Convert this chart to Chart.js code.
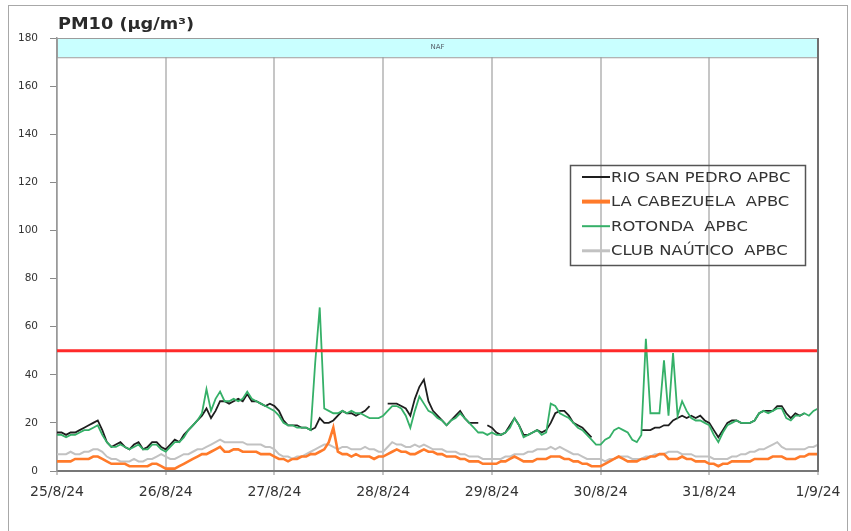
<!DOCTYPE html>
<html>
<head>
<meta charset="utf-8">
<script src="https://cdn.jsdelivr.net/npm/chart.js@4.4.1/dist/chart.umd.min.js"></script>
<style>
  html, body { margin: 0; padding: 0; background: #fff; }
</style>
</head>
<body>
<canvas id="pm10" width="851" height="531"></canvas>
<script>
/* PM10 hourly series, 25/8/24 00h -> 1/9/24 00h (one value per hour, null = no data) */

const DAY_LABELS = ['25/8/24', '26/8/24', '27/8/24', '28/8/24', '29/8/24', '30/8/24', '31/8/24', '1/9/24'];
const HOURS = Array.from({ length: 169 }, (_, i) => i);
const Y_TICKS = [0, 20, 40, 60, 80, 100, 120, 140, 160, 180];
const LIMIT = 50;              // daily limit value
const NAF_BAND = [172, 180];   // episode band at the top
const NAF_LABEL = 'NAF';
const TITLE = 'PM10 (µg/m³)';

const RIO_SAN_PEDRO = [
    16,16,15,16,16,17,18,19,20,21,17,12,10,11,12,10,9,11,12,9,10,12,12,10,
    9,11,13,12,15,17,19,21,23,26,22,25,29,29,28,29,30,29,32,29,29,28,27,28,
    27,25,21,19,19,19,18,18,17,18,22,20,20,21,23,25,24,24,23,24,25,27,null,null,
    null,28,28,28,27,26,23,30,35,38,29,25,23,21,19,21,23,25,22,20,20,20,null,19,
    18,16,15,16,19,22,19,15,15,16,17,16,17,20,24,25,25,23,20,19,18,16,14,null,
    null,null,null,null,null,null,null,null,null,17,17,17,18,18,19,19,21,22,23,22,23,22,23,21,
    20,17,14,17,20,21,21,20,20,20,21,24,25,25,25,27,27,24,22,24,23,24,null,null,null
];
const LA_CABEZUELA = [
    4,4,4,4,5,5,5,5,6,6,5,4,3,3,3,3,2,2,2,2,2,3,3,2,
    1,1,1,2,3,4,5,6,7,7,8,9,10,8,8,9,9,8,8,8,8,7,7,7,
    6,5,5,4,5,5,6,6,7,7,8,9,12,18,8,7,7,6,7,6,6,6,5,6,
    6,7,8,9,8,8,7,7,8,9,8,8,7,7,6,6,6,5,5,4,4,4,3,3,
    3,3,4,4,5,6,5,4,4,4,5,5,5,6,6,6,5,5,4,4,3,3,2,2,
    2,3,4,5,6,5,4,4,4,5,5,6,6,7,7,5,5,5,6,5,5,4,4,4,
    3,3,2,3,3,4,4,4,4,4,5,5,5,5,6,6,6,5,5,5,6,6,7,7,7
];
const ROTONDA = [
    15,15,14,15,15,16,17,17,18,19,15,12,10,10,11,10,9,10,11,9,9,11,11,9,
    8,10,12,12,14,17,19,21,24,34,25,30,33,29,29,30,29,30,33,30,29,28,27,26,
    25,23,20,19,19,18,18,18,17,45,68,26,25,24,24,25,24,25,24,24,23,22,22,22,
    23,25,27,27,26,23,18,25,31,28,25,24,22,21,19,21,22,24,22,20,18,16,16,15,
    16,15,15,16,18,22,19,14,15,16,17,15,16,28,27,24,23,22,20,18,17,15,13,11,
    11,13,14,17,18,17,16,13,12,15,55,24,24,24,46,23,49,23,29,25,22,21,21,20,
    19,15,12,16,19,20,21,20,20,20,21,24,25,24,25,26,26,22,21,23,23,24,23,25,26
];
const CLUB_NAUTICO = [
    7,7,7,8,7,7,8,8,9,9,8,6,5,5,4,4,4,5,4,4,5,5,6,7,
    6,5,5,6,7,7,8,9,9,10,11,12,13,12,12,12,12,12,11,11,11,11,10,10,
    9,7,6,6,5,6,6,7,8,9,10,11,11,10,9,10,10,9,9,9,10,9,9,8,
    8,10,12,11,11,10,10,11,10,11,10,9,9,9,8,8,8,7,7,6,6,6,5,5,
    5,5,5,6,6,7,7,7,8,8,9,9,9,10,9,10,9,8,7,7,6,5,5,5,
    5,4,5,5,6,6,6,5,5,5,6,6,7,7,7,8,8,8,7,7,7,6,6,6,
    6,5,5,5,5,6,6,7,7,8,8,9,9,10,11,12,10,9,9,9,9,9,10,10,11
];

Chart.defaults.font.family = "'DejaVu Sans', sans-serif";
Chart.defaults.color = '#333';

// band, limit line, frame, title and the boxed legend
const decor = {
    id: 'decor',
    beforeDraw(chart) {
        const { ctx } = chart;
        ctx.save();
        ctx.fillStyle = '#fff';
        ctx.fillRect(0, 0, chart.width, chart.height);
        ctx.strokeStyle = '#a8a8a8';
        ctx.lineWidth = 1;
        ctx.strokeRect(8.5, 5.5, chart.width - 12, chart.height + 10);
        ctx.restore();
    },
    beforeDatasetsDraw(chart) {
        const { ctx, chartArea: a, scales: { y } } = chart;
        const top = y.getPixelForValue(NAF_BAND[1]);
        const bot = y.getPixelForValue(NAF_BAND[0]);
        ctx.save();
        ctx.fillStyle = '#c9ffff';
        ctx.fillRect(a.left, top, a.right - a.left, bot - top);
        ctx.strokeStyle = '#9c9c9c';
        ctx.lineWidth = 1;
        ctx.strokeRect(a.left + 0.5, top + 0.5, a.right - a.left - 1, bot - top);
        ctx.fillStyle = '#56606a';
        ctx.font = "7px 'DejaVu Sans'";
        ctx.textAlign = 'center';
        ctx.textBaseline = 'middle';
        ctx.fillText(NAF_LABEL, (a.left + a.right) / 2, (top + bot) / 2);
        ctx.restore();
    },
    afterDatasetsDraw(chart) {
        const { ctx, chartArea: a, scales: { y } } = chart;
        const yl = y.getPixelForValue(LIMIT);
        ctx.save();
        ctx.strokeStyle = '#ff2a2a';
        ctx.lineWidth = 3;
        ctx.beginPath();
        ctx.moveTo(a.left, yl);
        ctx.lineTo(a.right, yl);
        ctx.stroke();
        // right edge of the plot
        ctx.strokeStyle = '#707070';
        ctx.lineWidth = 2;
        ctx.beginPath();
        ctx.moveTo(a.right, a.top);
        ctx.lineTo(a.right, a.bottom);
        ctx.stroke();
        ctx.restore();
    },
    afterDraw(chart) {
        const { ctx, chartArea: a } = chart;
        ctx.save();
        // title, stretched a little like the original export
        ctx.fillStyle = '#2a2a2a';
        ctx.font = "bold 15px 'DejaVu Sans'";
        ctx.textBaseline = 'alphabetic';
        const tw = ctx.measureText(TITLE).width;
        ctx.translate(a.left + 1, 29);
        ctx.scale(136 / tw, 1);
        ctx.fillText(TITLE, 0, 0);
        ctx.restore();

        // legend box
        const lx = 570, ly = 165, lw = 235, lh = 100;
        ctx.save();
        ctx.strokeStyle = '#555';
        ctx.lineWidth = 1.5;
        ctx.strokeRect(lx + 0.5, ly + 0.5, lw, lh);
        ctx.font = "14px 'DejaVu Sans'";
        ctx.textBaseline = 'middle';
        chart.data.datasets.forEach((ds, i) => {
            const ry = ly + 12 + i * 24.6;
            ctx.strokeStyle = ds.borderColor;
            ctx.lineWidth = ds.legendWidth;
            ctx.beginPath();
            ctx.moveTo(lx + 12, ry);
            ctx.lineTo(lx + 40, ry);
            ctx.stroke();
            ctx.save();
            ctx.fillStyle = '#333';
            ctx.translate(lx + 41, ry + 1);
            ctx.scale(1.17, 1);
            ctx.fillText(ds.label, 0, 0);
            ctx.restore();
        });
        ctx.restore();
    }
};

const ctx = document.getElementById('pm10').getContext('2d');

new Chart(ctx, {
    type: 'line',
    data: {
        labels: HOURS,
        datasets: [
            {
                label: 'RIO SAN PEDRO APBC',
                data: RIO_SAN_PEDRO,
                borderColor: '#1e1e1e',
                borderWidth: 1.8,
                legendWidth: 2,
                order: 1
            },
            {
                label: 'LA CABEZUELA  APBC',
                data: LA_CABEZUELA,
                borderColor: '#ff7a2a',
                borderWidth: 2.6,
                legendWidth: 4,
                order: 0
            },
            {
                label: 'ROTONDA  APBC',
                data: ROTONDA,
                borderColor: '#35b068',
                borderWidth: 1.8,
                legendWidth: 2,
                order: 0
            },
            {
                label: 'CLUB NAÚTICO  APBC',
                data: CLUB_NAUTICO,
                borderColor: '#c2c2c2',
                borderWidth: 2,
                legendWidth: 3,
                order: 2
            }
        ]
    },
    options: {
        responsive: false,
        animation: false,
        events: [],
        spanGaps: false,
        elements: {
            point: { radius: 0 },
            line: { tension: 0 }
        },
        layout: {
            padding: { left: 10, right: 33, top: 38, bottom: 20 }
        },
        plugins: {
            legend: { display: false },
            title: { display: false },
            tooltip: { enabled: false }
        },
        scales: {
            x: {
                type: 'linear',
                min: 0,
                max: 168,
                afterFit: (s) => { s.height = 40; },
                ticks: {
                    stepSize: 24,
                    autoSkip: false,
                    maxRotation: 0,
                    padding: 9,
                    font: { size: 14 },
                    color: '#333',
                    callback: (v) => DAY_LABELS[v / 24]
                },
                grid: {
                    color: '#c6c6c6',
                    lineWidth: 2,
                    tickLength: 4
                },
                border: { color: '#777', width: 2 }
            },
            y: {
                min: 0,
                max: 180,
                afterFit: (s) => { s.width = 47; },
                afterBuildTicks: (s) => { s.ticks = Y_TICKS.map(v => ({ value: v })); },
                ticks: {
                    padding: 12,
                    font: { size: 10.5 },
                    color: '#333'
                },
                grid: {
                    drawOnChartArea: false,
                    tickLength: 7,
                    color: '#8a8a8a'
                },
                border: { color: '#999', width: 1.5 }
            }
        }
    },
    plugins: [decor]
});
</script>
</body>
</html>
